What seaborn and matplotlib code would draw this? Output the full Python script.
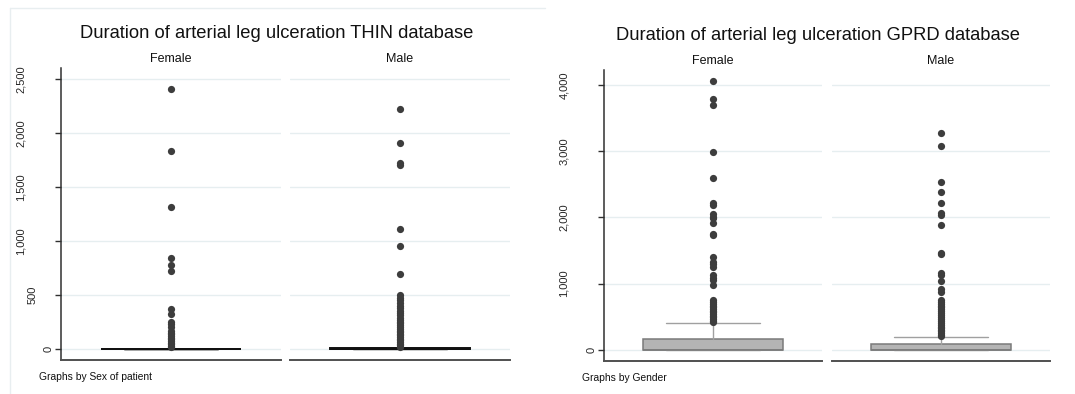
import matplotlib
matplotlib.use("Agg")
import matplotlib.pyplot as plt
import matplotlib.transforms as mtransforms
from matplotlib.lines import Line2D
import seaborn as sns

# ---------------- data ----------------
groups = ["Female", "Male"]

thin_title = "Duration of arterial leg ulceration THIN database"
gprd_title = "Duration of arterial leg ulceration GPRD database"
thin_note = "Graphs by Sex of patient"
gprd_note = "Graphs by Gender"

thin_female_outliers = [2410, 1833, 1312, 845, 778, 722, 368, 321, 253, 235, 206,
                        165, 150, 135, 120, 105, 90, 75, 60, 45, 30, 20]
thin_male_outliers = [2219, 1910, 1722, 1705, 1114, 956, 697, 497, 470, 454, 430,
                      400, 377, 350, 330, 315, 290, 270, 250, 238, 220, 200, 185,
                      170, 155, 140, 125, 110, 95, 80, 65, 50, 35, 20]
gprd_female_outliers = [4065, 3788, 3695, 2993, 2590, 2225, 2190, 2060, 2012, 1985,
                        1910, 1755, 1735, 1405, 1330, 1295, 1256, 1130, 1090, 1054,
                        975, 750, 720, 690, 665, 640, 615, 590, 565, 540, 515, 490,
                        465, 440, 418]
gprd_male_outliers = [3284, 3078, 2540, 2378, 2217, 2063, 2040, 1885, 1468, 1440,
                      1167, 1132, 1035, 913, 868, 750, 720, 695, 665, 640, 610, 580,
                      550, 520, 490, 460, 430, 400, 375, 350, 325, 300, 275, 250,
                      225, 200]

thin_q1 = [0, 0]
thin_median = [0, 0]
thin_q3 = [0, 5]
thin_whisker_low = [0, 0]
thin_whisker_high = [0, 12]

gprd_q1 = [0, 0]
gprd_median = [0, 0]
gprd_q3 = [161, 80]
gprd_whisker_low = [0, 0]
gprd_whisker_high = [408, 186]

thin_yticks = [0, 500, 1000, 1500, 2000, 2500]
gprd_yticks = [0, 1000, 2000, 3000, 4000]

# ---------------- style ----------------
sns.set_style("white")
plt.rcParams["font.family"] = ["Liberation Sans", "DejaVu Sans"]
plt.rcParams["text.color"] = "#111111"

W, H = 1075, 394
fig = plt.figure(figsize=(W / 100, H / 100), dpi=100)
fig.patch.set_facecolor("white")

GRID = "#e6eef0"
AXC = "#303030"
DOT = "#3d3d3d"


def ax_px(x0, y0, x1, y1):
    return fig.add_axes([x0 / W, 1 - y1 / H, (x1 - x0) / W, (y1 - y0) / H])


def draw_graph(panels, ylim, yticks, outliers, q1, med, q3, wlo, whi,
               boxface, boxedge, whiskc, boxlw):
    axes = []
    for i, (x0, y0, x1, y1) in enumerate(panels):
        ax = ax_px(x0, y0, x1, y1)
        ax.set_facecolor("white")
        stats = [dict(q1=q1[i], med=med[i], q3=q3[i], whislo=wlo[i],
                      whishi=whi[i], fliers=[])]
        ax.bxp(stats, positions=[0], widths=0.64, capwidths=0.43,
               patch_artist=True, showfliers=False,
               boxprops=dict(facecolor=boxface, edgecolor=boxedge, linewidth=boxlw),
               whiskerprops=dict(color=whiskc, linewidth=1.0),
               capprops=dict(color=whiskc, linewidth=1.0),
               medianprops=dict(color=boxedge, linewidth=boxlw))
        sns.stripplot(y=outliers[i], ax=ax, jitter=False, color=DOT, size=5.2,
                      linewidth=0, zorder=3)
        ax.set_xlim(-0.5, 0.5)
        ax.set_ylim(*ylim)
        ax.set_xticks([])
        ax.set_xlabel("")
        ax.set_ylabel("")
        ax.set_yticks(yticks)
        ax.yaxis.grid(True, color=GRID, linewidth=1.0)
        ax.set_axisbelow(True)
        for s in ["top", "right"]:
            ax.spines[s].set_visible(False)
        ax.spines["bottom"].set_color("#505050")
        ax.spines["bottom"].set_linewidth(1.4)
        if i == 0:
            ax.spines["left"].set_color(AXC)
            ax.spines["left"].set_linewidth(1.1)
            ax.set_yticklabels([f"{v:,}" for v in yticks], rotation=90,
                               fontsize=8, ha="center", va="center")
            ax.tick_params(axis="y", left=True, length=4, width=1.0,
                           color=AXC, pad=0, direction="out")
        else:
            ax.spines["left"].set_visible(False)
            ax.tick_params(axis="y", left=False, labelleft=False)
        ax.annotate(groups[i], xy=(0.5, 1), xycoords="axes fraction",
                    xytext=(0, 9.5 * 0.72), textcoords="offset points",
                    ha="center", va="center", fontsize=9)
        axes.append(ax)
    return axes


thin_axes = draw_graph([(61, 68, 281, 360), (290, 68, 510, 360)],
                       ((349 - 360) * 9.259, (349 - 68) * 9.259), thin_yticks,
                       [thin_female_outliers, thin_male_outliers],
                       thin_q1, thin_median, thin_q3, thin_whisker_low,
                       thin_whisker_high, "#b4b4b4", "#111111", "#111111", 1.4)

gprd_axes = draw_graph([(604, 70, 822, 361), (832, 70, 1050, 361)],
                       ((349.67 - 361) * 15.13, (349.67 - 70) * 15.13), gprd_yticks,
                       [gprd_female_outliers, gprd_male_outliers],
                       gprd_q1, gprd_median, gprd_q3, gprd_whisker_low,
                       gprd_whisker_high, "#b4b4b4", "#7a7a7a", "#a0a0a0", 1.1)

# titles and notes
fig.text(277 / W, 1 - 34 / H, thin_title, ha="center", va="center", fontsize=13.2)
fig.text(818 / W, 1 - 35 / H, gprd_title, ha="center", va="center", fontsize=13.2)
fig.text(39 / W, 1 - 377 / H, thin_note, ha="left", va="center", fontsize=7.4)
fig.text(582 / W, 1 - 378 / H, gprd_note, ha="left", va="center", fontsize=7.4)

# faint frame of the left graph (top and left edges)
fig.add_artist(Line2D([10 / W, 545 / W], [1 - 8 / H, 1 - 8 / H], color="#e8eef0", lw=1.0))
fig.add_artist(Line2D([10 / W, 10 / W], [1 - 8 / H, 0], color="#e8eef0", lw=1.0))

# Stata-like placement of rotated tick labels: longer labels sit further left
fig.canvas.draw()
for ax in (thin_axes[0], gprd_axes[0]):
    for lab in ax.get_yticklabels():
        L = lab.get_window_extent().height
        dx = -(1.3 * L - 1.5) / 100.0
        lab.set_transform(lab.get_transform() +
                          mtransforms.ScaledTranslation(dx, 0, fig.dpi_scale_trans))

fig.savefig("out.png", dpi=100, facecolor="white")
